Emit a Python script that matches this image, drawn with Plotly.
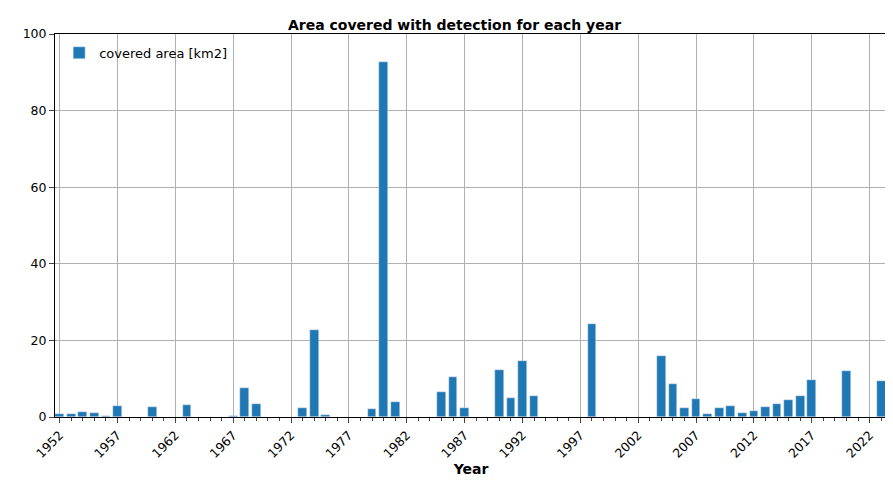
import plotly.graph_objects as go

years = [1952, 1953, 1954, 1955, 1956, 1957, 1960, 1963, 1967, 1968, 1969,
         1973, 1974, 1975, 1979, 1980, 1981, 1985, 1986, 1987,
         1990, 1991, 1992, 1993, 1998, 2004, 2005, 2006, 2007, 2008, 2009,
         2010, 2011, 2012, 2013, 2014, 2015, 2016, 2017, 2020, 2023]
area = [0.8, 0.8, 1.3, 1.1, 0.3, 2.8, 2.6, 3.2, 0.2, 7.5, 3.5,
        2.3, 22.6, 0.5, 2.1, 92.8, 3.9, 6.4, 10.4, 2.4,
        12.2, 5.0, 14.6, 5.5, 24.2, 15.9, 8.6, 2.4, 4.7, 0.9, 2.3,
        2.8, 1.0, 1.5, 2.6, 3.4, 4.5, 5.5, 9.6, 11.9, 9.3]

fig = go.Figure(go.Bar(x=years, y=area, width=0.75, marker_color="#1f77b4",
                       name="covered area [km2]", showlegend=True))

fig.update_layout(
    width=893, height=491,
    paper_bgcolor="white", plot_bgcolor="white",
    margin=dict(l=47, r=14, t=26, b=82, autoexpand=False),
    font=dict(family="DejaVu Sans", size=12, color="black"),
    title=dict(text="<b>Area covered with detection for each year</b>",
               x=0.5, xanchor="center", y=0.975, font=dict(size=14)),
    legend=dict(x=0.005, y=0.99, xanchor="left", yanchor="top",
                bgcolor="rgba(0,0,0,0)", font=dict(size=13)),
    bargap=0,
)
fig.update_xaxes(range=[1951.6, 2023.5], tickmode="linear", tick0=1952, dtick=5,
                 tickangle=-45, showgrid=True, gridcolor="#b0b0b0",
                 ticks="outside", ticklen=5, showline=True, linecolor="black",
                 mirror=True, zeroline=False, tickfont=dict(size=12.5),
                 minor=dict(dtick=1, tick0=1952, ticks="outside", ticklen=3, showgrid=False),
                 title=dict(text="<b>Year</b>", standoff=4))
fig.update_yaxes(range=[0, 100], dtick=20, showgrid=True, gridcolor="#b0b0b0",
                 ticks="outside", ticklen=5, showline=True, linecolor="black",
                 mirror=True, zeroline=False, tickfont=dict(size=12.5))

fig.write_html("out.html")
